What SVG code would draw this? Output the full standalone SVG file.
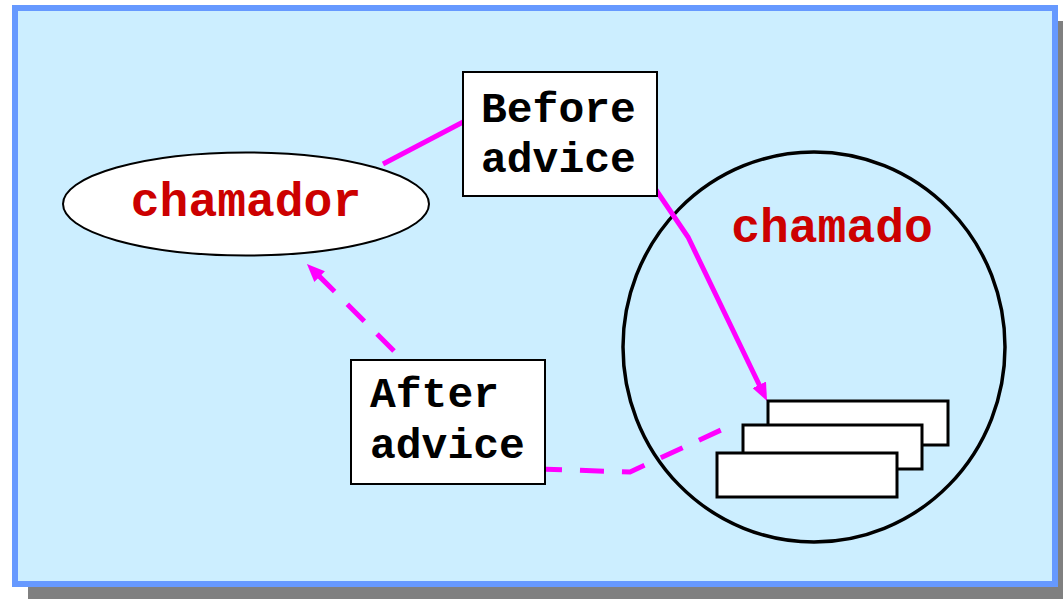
<svg xmlns="http://www.w3.org/2000/svg" width="1063" height="599" viewBox="0 0 1063 599">
  <style>
    .box { fill: #ffffff; stroke: #000000; stroke-width: 2; }
    .stack { fill: #ffffff; stroke: #000000; stroke-width: 3; }
    .label { font-family: "Liberation Mono", "Courier New", monospace; font-weight: bold; font-size: 43px; fill: #000000; }
    .name { font-family: "Liberation Mono", "Courier New", monospace; font-weight: bold; font-size: 48px; fill: #cc0000; text-anchor: middle; }
    .link { fill: none; stroke: #ff00ff; stroke-width: 5; }
    .dashed { stroke-dasharray: 24 18; }
  </style>
  <defs>
    <marker id="head" markerUnits="userSpaceOnUse" markerWidth="18" markerHeight="15" refX="8" refY="7.5" orient="auto">
      <path d="M0,0 L18,7.5 L0,15 z" fill="#ff00ff"/>
    </marker>
  </defs>

  <!-- panel with drop shadow -->
  <g id="panel">
    <rect x="28" y="21" width="1046" height="582" fill="#808080"/>
    <rect x="15" y="8" width="1040" height="576" fill="#cceeff" stroke="#6699ff" stroke-width="6"/>
  </g>

  <!-- called object -->
  <g id="chamado">
    <ellipse cx="814" cy="347" rx="191" ry="195" fill="none" stroke="#000000" stroke-width="3.5"/>
    <text class="name" x="832" y="242">chamado</text>
  </g>

  <!-- connectors -->
  <g id="connectors">
    <path class="link" d="M383,164 L465,121"/>
    <path class="link" d="M652,184 L688,237 L762.7,392" marker-end="url(#head)"/>
    <path class="link dashed" d="M394,351 L314,271" marker-end="url(#head)"/>
    <path class="link dashed" d="M538,469 L630,472 L721,430"/>
  </g>

  <g id="chamador">
    <ellipse cx="246" cy="204" rx="183" ry="51.5" fill="#ffffff" stroke="#000000" stroke-width="2"/>
    <text class="name" x="246" y="216">chamador</text>
  </g>

  <g id="before-advice">
    <rect class="box" x="463" y="72" width="194" height="124"/>
    <text class="label" x="481" y="122">Before</text>
    <text class="label" x="481" y="172">advice</text>
  </g>

  <g id="after-advice">
    <rect class="box" x="351" y="360" width="194" height="124"/>
    <text class="label" x="370" y="407">After</text>
    <text class="label" x="370" y="458">advice</text>
  </g>

  <!-- stacked method frames -->
  <g id="stack">
    <rect class="stack" x="768" y="401" width="180" height="44"/>
    <rect class="stack" x="743" y="425" width="179" height="44"/>
    <rect class="stack" x="717" y="453" width="180" height="44"/>
  </g>
</svg>
